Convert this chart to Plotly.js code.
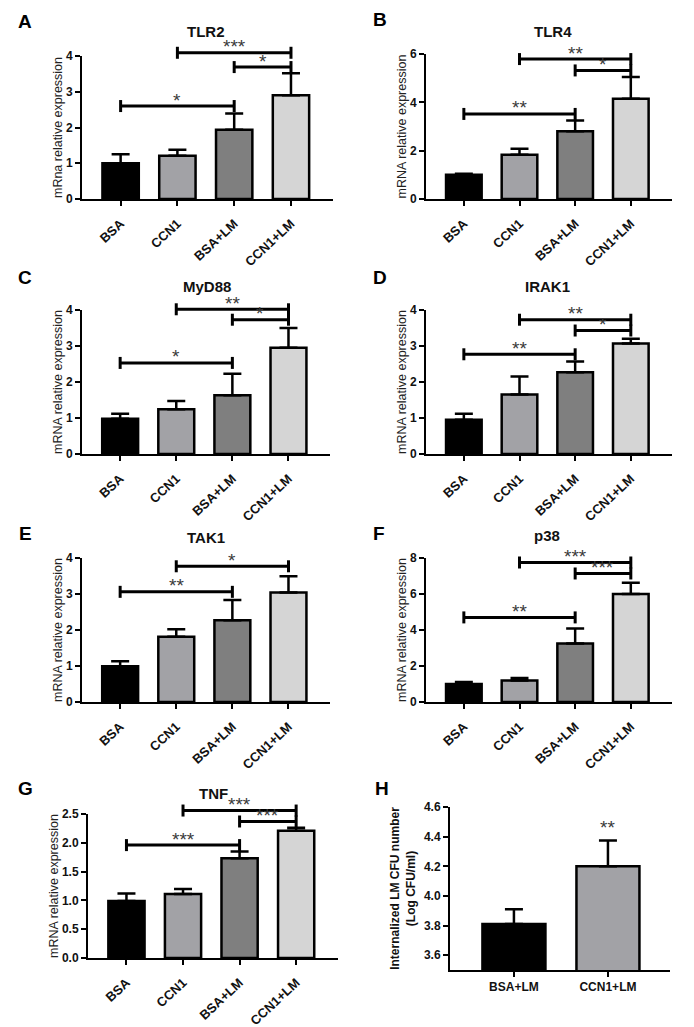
<!DOCTYPE html>
<html><head><meta charset="utf-8">
<script src="https://cdn.plot.ly/plotly-3.0.1.min.js"></script>
<style>html,body{margin:0;padding:0;background:#fff}</style>
</head><body><div id="chart" style="width:694px;height:1027px"></div>
<script>
// ---------- data ----------
const categories = ['BSA', 'CCN1', 'BSA+LM', 'CCN1+LM'];

const tlr2 = [1.0, 1.21, 1.94, 2.9];
const tlr2Err = [0.25, 0.17, 0.45, 0.62];
const tlr2Sig = [[0, 2, 2.6, '*'], [1, 3, 4.09, '***'], [2, 3, 3.69, '*']];

const tlr4 = [1.0, 1.83, 2.8, 4.15];
const tlr4Err = [0.04, 0.25, 0.45, 0.9];
const tlr4Sig = [[0, 2, 3.52, '**'], [1, 3, 5.79, '**'], [2, 3, 5.32, '*']];

const myd88 = [0.98, 1.24, 1.63, 2.95];
const myd88Err = [0.14, 0.23, 0.6, 0.55];
const myd88Sig = [[0, 2, 2.53, '*'], [1, 3, 4.02, '**'], [2, 3, 3.73, '*']];

const irak1 = [0.95, 1.65, 2.27, 3.07];
const irak1Err = [0.17, 0.5, 0.3, 0.13];
const irak1Sig = [[0, 2, 2.77, '**'], [1, 3, 3.73, '**'], [2, 3, 3.43, '*']];

const tak1 = [0.99, 1.81, 2.27, 3.04];
const tak1Err = [0.14, 0.21, 0.56, 0.45];
const tak1Sig = [[0, 2, 3.06, '**'], [1, 3, 3.77, '*']];

const p38 = [1.0, 1.2, 3.25, 6.0];
const p38Err = [0.11, 0.13, 0.84, 0.62];
const p38Sig = [[0, 2, 4.7, '**'], [1, 3, 7.75, '***'], [2, 3, 7.14, '***']];

const tnf = [0.99, 1.11, 1.73, 2.21];
const tnfErr = [0.13, 0.09, 0.12, 0.05];
const tnfSig = [[0, 2, 1.96, '***'], [1, 3, 2.56, '***'], [2, 3, 2.37, '***']];

const cfuCategories = ['BSA+LM', 'CCN1+LM'];
const cfu = [3.81, 4.2];
const cfuErr = [0.1, 0.175];
const cfuSig = [[1, '**']];

const yTicksCfu = [3.6, 3.8, 4.0, 4.2, 4.4, 4.6];

// ---------- styling / layout config ----------
const W = 694, H = 1027;
const FONT = 'Arial, "Liberation Sans", Helvetica, sans-serif';
const barColors = ['#000000', '#a2a2a6', '#7f7f7f', '#d5d5d5'];
const cfuColors = ['#000000', '#a2a2a6'];

const panels = [
  {letter: 'A', title: 'TLR2', ytitle: 'mRna relative expression', vals: tlr2, errs: tlr2Err, sig: tlr2Sig, yr: [0, 4], dtick: 1, fmt: 'd', box: [82, 333, 56, 199], tpos: [206, 32], lpos: [25, 22]},
  {letter: 'B', title: 'TLR4', ytitle: 'mRNA relative expression', vals: tlr4, errs: tlr4Err, sig: tlr4Sig, yr: [0, 6], dtick: 2, fmt: 'd', box: [426, 672, 54, 199], tpos: [553, 32], lpos: [380, 20]},
  {letter: 'C', title: 'MyD88', ytitle: 'mRNA relative expression', vals: myd88, errs: myd88Err, sig: myd88Sig, yr: [0, 4], dtick: 1, fmt: 'd', box: [82, 330, 310, 454], tpos: [207, 287], lpos: [25, 277]},
  {letter: 'D', title: 'IRAK1', ytitle: 'mRNA relative expression', vals: irak1, errs: irak1Err, sig: irak1Sig, yr: [0, 4], dtick: 1, fmt: 'd', box: [426, 672, 310, 454], tpos: [547, 287], lpos: [380, 277]},
  {letter: 'E', title: 'TAK1', ytitle: 'mRNA relative expression', vals: tak1, errs: tak1Err, sig: tak1Sig, yr: [0, 4], dtick: 1, fmt: 'd', box: [82, 330, 558, 702], tpos: [206, 537], lpos: [25, 533]},
  {letter: 'F', title: 'p38', ytitle: 'mRNA relative expression', vals: p38, errs: p38Err, sig: p38Sig, yr: [0, 8], dtick: 2, fmt: 'd', box: [426, 672, 558, 702], tpos: [547, 535], lpos: [379, 533]},
  {letter: 'G', title: 'TNF', ytitle: 'mRNA relative expression', vals: tnf, errs: tnfErr, sig: tnfSig, yr: [0, 2.5], dtick: 0.5, fmt: '.1f', box: [88, 338, 814, 958], tpos: [213, 793], lpos: [25, 788]}
];

const fx = px => px / W;
const fy = py => 1 - py / H;

const traces = [];
const annotations = [];
const layout = {
  width: W, height: H,
  margin: {l: 0, r: 0, t: 0, b: 0},
  paper_bgcolor: '#ffffff', plot_bgcolor: 'rgba(0,0,0,0)',
  showlegend: false,
  font: {family: FONT, color: '#111'},
  annotations: annotations
};

function axName(k) { return k === 1 ? '' : String(k); }

const XR4 = [-0.68, 3.74];
const EXT = 46;
const STAR_FONT = {family: FONT, size: 19, color: '#3a3a3a'};

panels.forEach((p, idx) => {
  const n = idx + 1, m = idx + 10;
  const xa = 'x' + axName(n), ya = 'y' + axName(n);
  const xb = 'x' + m, yb = 'y' + m;
  const [x0, x1, y0, y1] = p.box;

  layout['xaxis' + axName(n)] = {
    domain: [fx(x0), fx(x1)], range: XR4, anchor: ya, type: 'category',
    showline: true, linecolor: '#000', linewidth: 2,
    ticks: 'outside', ticklen: 5, tickwidth: 2, tickcolor: '#000',
    tickangle: -43, ticklabelstandoff: 5, showgrid: false, zeroline: false,
    tickfont: {family: FONT, size: 13, color: '#111', weight: 'bold'}
  };
  layout['yaxis' + axName(n)] = {
    domain: [fy(y1), fy(y0)], range: p.yr, anchor: xa,
    showline: true, linecolor: '#000', linewidth: 2,
    ticks: 'outside', ticklen: 5, tickwidth: 2, tickcolor: '#000',
    dtick: p.dtick, tick0: 0, tickformat: p.fmt, showgrid: false, zeroline: false,
    tickfont: {family: FONT, size: 12, color: '#111', weight: 'bold'},
    title: {text: p.ytitle, font: {family: FONT, size: 12.5, color: '#222'}, standoff: 1}
  };
  const extMax = p.yr[0] + (p.yr[1] - p.yr[0]) * (y1 - (y0 - EXT)) / (y1 - y0);
  layout['xaxis' + m] = {domain: [fx(x0), fx(x1)], range: XR4, anchor: yb, visible: false, type: 'linear'};
  layout['yaxis' + m] = {domain: [fy(y1), fy(y0 - EXT)], range: [p.yr[0], extMax], anchor: xb, visible: false};

  traces.push({
    type: 'bar', x: categories, y: p.vals, xaxis: xa, yaxis: ya, width: 0.64,
    marker: {color: barColors, line: {color: '#000', width: 2.5}},
    error_y: {type: 'data', symmetric: false, array: p.errs, arrayminus: p.errs.map(() => 0),
              color: '#000', thickness: 2.5, width: 9},
    hoverinfo: 'skip'
  });

  const pxPerUnit = (y1 - y0) / (p.yr[1] - p.yr[0]);
  const d = 6 / pxPerUnit;
  p.sig.forEach(s => {
    const [i, j, h, lab] = s;
    traces.push({
      type: 'scatter', mode: 'lines', xaxis: xb, yaxis: yb,
      x: [i, i, null, i, j, null, j, j],
      y: [h + d, h - d, null, h, h, null, h + d, h - d],
      line: {color: '#000', width: 3}, hoverinfo: 'skip'
    });
    annotations.push({
      xref: xb, yref: yb, x: (i + j) / 2, y: h, text: lab, showarrow: false,
      yanchor: 'middle', yshift: 6, font: STAR_FONT
    });
  });

  annotations.push({xref: 'paper', yref: 'paper', x: fx(p.tpos[0]), y: fy(p.tpos[1]), text: '<b>' + p.title + '</b>',
    showarrow: false, xanchor: 'center', yanchor: 'middle', font: {family: FONT, size: 15, color: '#111'}});
  annotations.push({xref: 'paper', yref: 'paper', x: fx(p.lpos[0]), y: fy(p.lpos[1]), text: '<b>' + p.letter + '</b>',
    showarrow: false, xanchor: 'center', yanchor: 'middle', font: {family: FONT, size: 19, color: '#000'}});
});

// ---------- panel H ----------
const hBox = [450, 670, 807, 970];
layout.xaxis8 = {
  domain: [fx(hBox[0]), fx(hBox[1])], range: [-0.68, 1.66], anchor: 'y8', type: 'category',
  showline: true, linecolor: '#000', linewidth: 2,
  ticks: 'outside', ticklen: 5, tickwidth: 2, tickcolor: '#000', tickangle: 0,
  showgrid: false, zeroline: false,
  tickfont: {family: FONT, size: 12, color: '#111', weight: 'bold'}
};
layout.yaxis8 = {
  domain: [fy(hBox[3]), fy(hBox[2])], range: [3.5, 4.601], anchor: 'x8',
  showline: true, linecolor: '#000', linewidth: 2,
  ticks: 'outside', ticklen: 5, tickwidth: 2, tickcolor: '#000',
  tickvals: yTicksCfu, tickformat: '.1f', showgrid: false, zeroline: false,
  tickfont: {family: FONT, size: 12, color: '#111', weight: 'bold'},
  title: {text: 'Internalized LM CFU number<br>(Log CFU/ml)', font: {family: FONT, size: 12, color: '#111', weight: 'bold'}, standoff: 6}
};
traces.push({
  type: 'bar', x: cfuCategories, y: cfu, xaxis: 'x8', yaxis: 'y8', width: 0.67,
  marker: {color: cfuColors, line: {color: '#000', width: 2.5}},
  error_y: {type: 'data', symmetric: false, array: cfuErr, arrayminus: cfuErr.map(() => 0),
            color: '#000', thickness: 2.5, width: 9},
  hoverinfo: 'skip'
});
cfuSig.forEach(s => {
  const [i, lab] = s;
  annotations.push({xref: 'x8', yref: 'y8', x: cfuCategories[i], y: cfu[i] + cfuErr[i], text: lab, showarrow: false,
    yanchor: 'middle', yshift: 13, font: STAR_FONT});
});
annotations.push({xref: 'paper', yref: 'paper', x: fx(382), y: fy(788), text: '<b>H</b>',
  showarrow: false, xanchor: 'center', yanchor: 'middle', font: {family: FONT, size: 19, color: '#000'}});

Plotly.newPlot('chart', traces, layout, {staticPlot: true, displayModeBar: false});
</script>
</body></html>
